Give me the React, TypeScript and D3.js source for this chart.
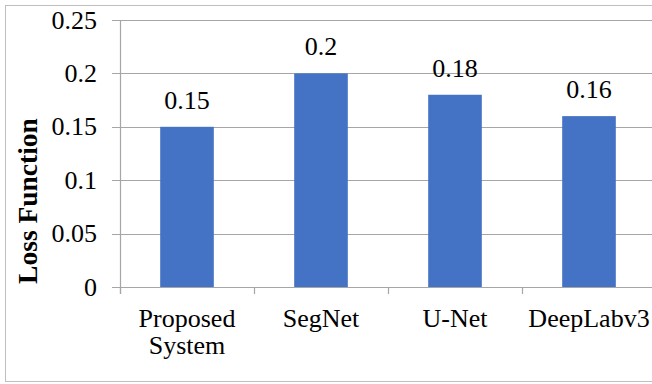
import React from "react";
import * as d3 from "d3";

const categories: string[][] = [["Proposed", "System"], ["SegNet"], ["U-Net"], ["DeepLabv3"]];
const lossValues: number[] = [0.15, 0.2, 0.18, 0.16];
const valueLabels: string[] = ["0.15", "0.2", "0.18", "0.16"];
const yTicks: number[] = [0, 0.05, 0.1, 0.15, 0.2, 0.25];
const yTickLabels: string[] = ["0", "0.05", "0.1", "0.15", "0.2", "0.25"];
const yTitle = "Loss Function";

const W = 652;
const H = 384;
const textStyle: React.CSSProperties = {
  fontFamily: "Liberation Serif",
  fontSize: "26px",
  fill: "#000",
};

export default function App() {
  const plotLeft = 120;
  const band = 134;
  const x = d3
    .scaleBand<number>()
    .domain(d3.range(categories.length))
    .range([plotLeft, plotLeft + band * categories.length])
    .paddingInner(0.6)
    .paddingOuter(0.3);
  const y = d3.scaleLinear().domain([0, 0.25]).range([287, 20]);
  const right = plotLeft + band * categories.length;

  return (
    <svg width={W} height={H} style={{ position: "absolute", left: 0, top: 0, background: "#fff" }}>
      <rect x={5.5} y={5.5} width={W + 20} height={376} fill="#fff" stroke="#BFBFBF" strokeWidth={1} />
      {/* gridlines and y ticks */}
      {yTicks.map((t, i) => (
        <g key={i}>
          <line x1={112} x2={right} y1={Math.round(y(t)) + 0.5} y2={Math.round(y(t)) + 0.5} stroke="#A6A6A6" strokeWidth={1.2} />
          <text x={97} y={y(t)} dy="0.33em" textAnchor="end" style={textStyle}>
            {yTickLabels[i]}
          </text>
        </g>
      ))}
      {/* y axis */}
      <line x1={120.5} x2={120.5} y1={y(0.25)} y2={y(0) + 7} stroke="#A6A6A6" strokeWidth={1.2} />
      {/* category ticks */}
      {d3.range(categories.length + 1).map((i) => (
        <line key={i} x1={plotLeft + i * band + 0.5} x2={plotLeft + i * band + 0.5} y1={y(0)} y2={y(0) + 7} stroke="#A6A6A6" strokeWidth={1.2} />
      ))}
      {/* bars */}
      {lossValues.map((v, i) => (
        <rect key={i} x={x(i)!} y={y(v)} width={x.bandwidth()} height={y(0) - y(v)} fill="#4472C4" />
      ))}
      {/* value labels */}
      {lossValues.map((v, i) => (
        <text key={i} x={x(i)! + x.bandwidth() / 2} y={y(v) - 18} textAnchor="middle" style={textStyle}>
          {valueLabels[i]}
        </text>
      ))}
      {/* category labels */}
      {categories.map((lines, i) => (
        <text key={i} x={x(i)! + x.bandwidth() / 2} y={327} textAnchor="middle" style={textStyle}>
          {lines.map((l, j) => (
            <tspan key={j} x={x(i)! + x.bandwidth() / 2} dy={j === 0 ? 0 : 26.5}>
              {l}
            </tspan>
          ))}
        </text>
      ))}
      {/* y axis title */}
      <text transform="translate(37,201) rotate(-90)" textAnchor="middle" style={{ ...textStyle, fontSize: "27.5px", fontWeight: "bold" }}>
        {yTitle}
      </text>
    </svg>
  );
}
